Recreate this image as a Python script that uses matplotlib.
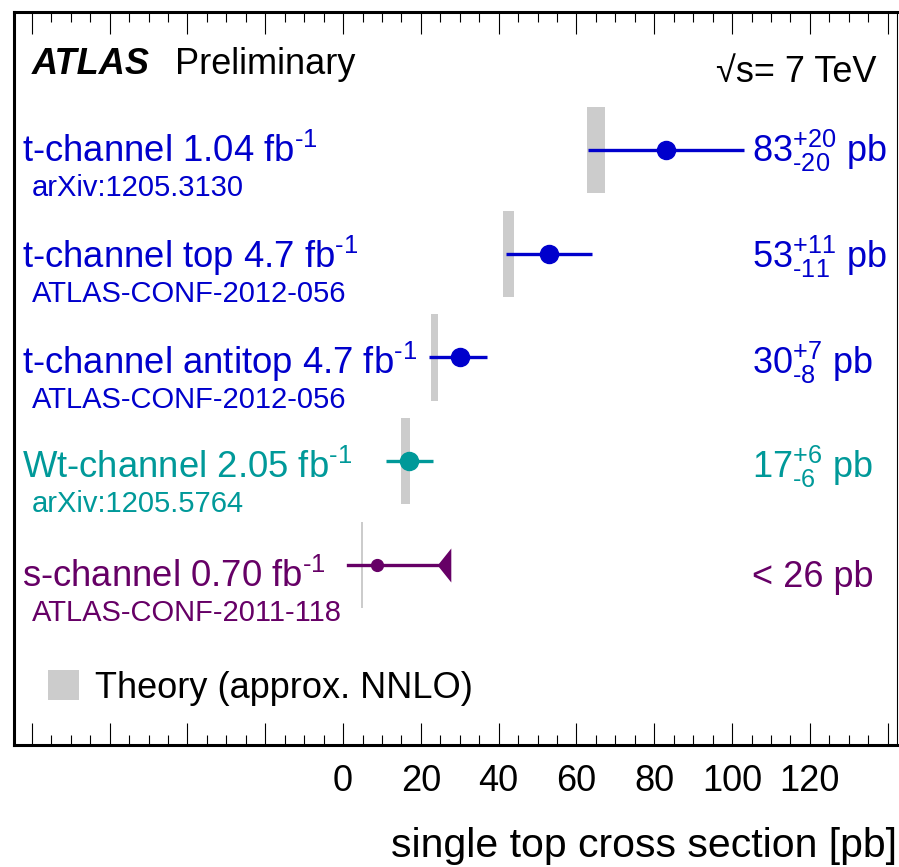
import numpy as np
import matplotlib.pyplot as plt
from matplotlib.ticker import MultipleLocator, FuncFormatter

plt.rcParams['font.family'] = 'Liberation Sans'
plt.rcParams['mathtext.fontset'] = 'custom'
plt.rcParams['mathtext.rm'] = 'Liberation Sans'
plt.rcParams['mathtext.it'] = 'Liberation Sans:italic'
plt.rcParams['mathtext.bf'] = 'Liberation Sans:bold'

# measurements (pb)
channels = ['t-channel 1.04', 't-channel top 4.7', 't-channel antitop 4.7',
            'Wt-channel 2.05', 's-channel 0.70']
references = ['arXiv:1205.3130', 'ATLAS-CONF-2012-056', 'ATLAS-CONF-2012-056',
              'arXiv:1205.5764', 'ATLAS-CONF-2011-118']
xsec = [83, 53, 30, 17]
err_up = [20, 11, 7, 6]
err_down = [20, 11, 8, 6]
# s-channel: only an upper limit
s_point = 8.7
s_low = 1.3
s_limit = 26
# theory band (approx. NNLO)
theory_lo = [62.6, 41.0, 22.5, 15.0, 4.5]
theory_hi = [67.3, 43.9, 24.3, 17.2, 5.0]

colors = ['#0000cc', '#0000cc', '#0000cc', '#009999', '#660066']

fig = plt.figure(figsize=(8.99, 8.67), dpi=100)
ax = fig.add_axes([14/899, 122/867, 883/899, 733/867])

rows = np.arange(len(channels))

# theory
ax.barh(rows, np.array(theory_hi) - np.array(theory_lo), left=theory_lo,
        height=0.83, color='#cccccc', label='Theory (approx. NNLO)', zorder=1)

# measured points
for i in range(len(xsec)):
    ax.errorbar(xsec[i], rows[i], xerr=[[err_down[i]], [err_up[i]]], fmt='o',
                color=colors[i], ms=13, lw=2.4, capsize=0, zorder=3)

# s-channel limit
tri = [(-0.2, 0), (0.2, 0.5), (0.2, -0.5), (-0.2, 0)]
ax.plot([s_low, s_limit], [rows[4], rows[4]], color=colors[4], lw=2.4, zorder=3)
ax.plot(s_point, rows[4], 'o', color=colors[4], ms=8.5, zorder=4)
ax.plot(s_limit, rows[4], marker=tri, color=colors[4], ms=24.5, mew=0, zorder=4)

ax.set_xlim(-84.6, 142.4)
ax.set_ylim(5.735, -1.330)

# text labels
px = 103.75  # pixels per row
dy = [12, 14, 17, 17, 22]
tr = ax.get_yaxis_transform()
for i in range(len(channels)):
    ax.text(0.009, rows[i] + dy[i]/px, channels[i] + r' fb$^{\text{-1}}$',
            transform=tr, color=colors[i], fontsize=26.3, va='baseline')
    ax.text(0.0204, rows[i] + (dy[i] + 34)/px, references[i],
            transform=tr, color=colors[i], fontsize=21, va='baseline')
    if i < len(xsec):
        val = r'$%d^{\text{+%d}}_{\text{-%d}}$ pb' % (xsec[i], err_up[i], err_down[i])
    else:
        val = '< %d pb' % s_limit
    ax.text(0.836, rows[i] + dy[i]/px, val, transform=tr, color=colors[i],
            fontsize=26, va='baseline')

ax.text(0.0204, 0.9154, 'ATLAS', transform=ax.transAxes, fontsize=26,
        fontweight='bold', fontstyle='italic', va='baseline')
ax.text(0.182, 0.9154, 'Preliminary', transform=ax.transAxes, fontsize=26,
        va='baseline')
ax.text(0.977, 0.9045, '√s= 7 TeV', transform=ax.transAxes,
        fontsize=26, ha='right', va='baseline')

ax.legend(loc='center left', bbox_to_anchor=(0.0385, 0.078), frameon=False,
          fontsize=26, handlelength=0.85, handleheight=0.9, handletextpad=0.45,
          borderpad=0, borderaxespad=0)

# axis
ax.xaxis.set_major_locator(MultipleLocator(20))
ax.xaxis.set_minor_locator(MultipleLocator(5))
ax.xaxis.set_major_formatter(FuncFormatter(lambda v, p: '%d' % v if 0 <= v <= 120 else ''))
ax.tick_params(axis='x', which='both', direction='in', top=True, bottom=True,
               labelsize=26, pad=14, width=0.8)
ax.tick_params(axis='x', which='major', length=16)
ax.tick_params(axis='x', which='minor', length=7.5)
ax.tick_params(axis='y', left=False, right=False, labelleft=False)
for s in ['left', 'top', 'bottom']:
    ax.spines[s].set_linewidth(2.2)
ax.spines['right'].set_linewidth(0.8)

ax.set_xlabel('single top cross section [pb]', fontsize=29.5, loc='right', labelpad=20)

plt.savefig('out.png', dpi=100)
